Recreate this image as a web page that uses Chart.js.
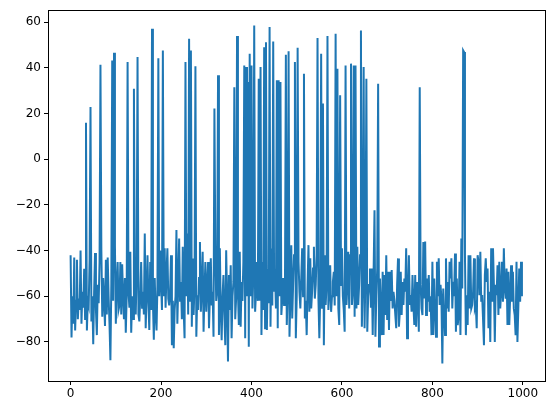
<!DOCTYPE html>
<html>
<head>
<meta charset="utf-8">
<script src="https://cdn.jsdelivr.net/npm/chart.js@4.4.0/dist/chart.umd.min.js"></script>
<style>
html,body{margin:0;padding:0;background:#fff;}
canvas{display:block;}
</style>
</head>
<body>
<canvas id="c" width="555" height="413"></canvas>
<script>
// sample spacing along x (values are read every 2 units)
const xStep = 2;
const values = [
-42, -78, -60, -72, -43, -75, -62, -44, -70, -61,
-66, -40, -72, -58, -65, -48, -70, 16, -75, -62,
-64, -44, 22.9, -71, -60, -81, -58, -41, -66, -77,
-55, -63, -45, 41.4, -40, -69, -52, -62, -73, -44,
-68, -43, -60, -72, -88, -55, 43.3, -62, 46.7, -37.6,
-72, -55, -45, -66, -64, -45, -68, -46, -60, -70,
-52, -76, -60, 42.6, -58, -65, -40.5, -76, -60, -70,
30.9, -55, -68, -50, 44.8, -68, -71, -60, -45, -65,
-58, -68, -32.5, -74, -60, -42, -62, -74.8, -45, -66,
57.2, -62, -79, -52, -68, -75, -55, 44.3, -60, -40,
-54, -66, 47.7, -60, -39, -65, -50, -39, -61, -64,
-58, -42, -81.4, -62, -82.8, -66, -60, -31, -72, -55,
-34.7, -62, -53.7, -70, -38.3, -66, -78.4, 42.6, -60, -32.5,
-68, 52.8, -62, 47.7, -73.3, -43.4, -68.2, -55, 40.8, -77.7,
-59.5, -66, -52, -36.2, -66.8, -56, -40.5, -75.5, -58, -45,
-66.8, -55, -45, -74, -60, -43.4, -64, -58, -77.7, 22.2,
-40, -62, -58, 36.8, -77, -39, -66, -79.2, -60, -50.7,
-68, -81.4, -39.8, -62, -88.6, -50.7, -66, -46.4, -78.4, -60,
-53.7, 31.6, -70, -61, 54, -58, -72.6, -40.5, -73.3, -53.7,
-62, -45, 41.1, -78.4, 40.4, -60, 33.8, -82.1, 46.2, -60,
41.1, -65.3, -50.7, 58.6, -66.8, -58, -45, -62, 35.3, -62,
40.4, -77, -45, -66, 49.1, -74, 51.3, -74.8, -48, -63,
57.9, -73.3, -39.1, -64, 51.6, -58, -48, -65.3, 34.6, -74,
34.6, -60, 33.8, -68.2, -61, -52, -63.8, -55, 45.8, -72.6,
-58, 47.3, -77.7, -60, -37.6, -69.7, -55, -42, 42.6, -78.4,
-60, 48.8, -45, -58, -65.3, -52, -39, -60, 37.5, -69.7,
-62, -77, -55, -37.6, -66.8, -43.4, -65.3, -58, -47.8, -38.3,
-61, -55, -42, 53.1, -61, -78.4, -60, 46.2, -65, 24.4,
-81.4, -42, -63.8, -55, 54, -66, -58, -46.4, -66.8, -60,
-53.7, -49.3, -64, 55, -60, 39.7, -65.3, -72.6, 28, -55,
-39, -60, -66, -75.5, 41.1, -63.8, -55, -40.5, -65.3, -42,
41.9, -63.8, -58, 41.1, -69, 41.1, -65.3, -38.3, -63.8, -55,
-42, 56.4, -73.3, -53.7, 40.4, -74, -49.3, 35.3, -75.5, -60,
-55, -47.8, -65, -47.8, -77, -49.3, -22.3, -77.7, -60, -47.8,
33.1, -82, -52.2, -66, -77, -49.3, -77, -50.7, -68.2, -42,
-70.4, -49.3, -74.8, -49.3, -62, -48.5, -65.3, -58, -62, -68.2,
-74, -55, -43.4, -73.3, -66.8, -49.3, -68.2, -53.7, -63.8, -52.2,
-58, -39, -78.4, -60, -42, -63.8, -59.5, -66.8, -50.7, -63.8,
-72.6, -50.7, -73.3, -53.7, -60, -75.5, 31.6, -55, -65.3, -68.2,
-36.2, -61, -36, -68.2, -52.2, -62.4, -50.7, -66.8, -60, -77,
-44.9, -77, -52.2, -63.8, -77.7, -44.9, -60, -43.4, -63.8, -55,
-61, -89.4, -56.6, -66, -77, -43.4, -65.3, -53.7, -66.8, -44.9,
-52.2, -43.4, -65.3, -53.7, -60, -41.3, -75.5, -52.2, -72.6, -68.2,
-44.9, -77, -34.7, -56.6, 47.7, 47, -42, -77, -59.5, -72.6,
-42, -65.3, -42, -65.3, -63.8, -58, -43.4, -65.3, -63.8, -74,
-42, -44.9, -59.5, -40.5, -62.4, -59.5, -70, -81.4, -50.7, -43.4,
-53.7, -47.8, -74, -58, -80, -39, -62, -39, -55, -80,
-55, -59.5, -46.4, -68.2, -44.9, -65.3, -58, -44.9, -62.4, -39,
-56.6, -61, -47.8, -72.6, -49.3, -72.6, -60, -46.4, -62.4, -49.3,
-65.3, -68.2, -77, -44.9, -80, -65.3, -47.8, -62.4, -44.9, -60
];
const xTicks = [0, 200, 400, 600, 800, 1000];
const yTicks = [-80, -60, -40, -20, 0, 20, 40, 60];

const points = values.map((v, i) => ({x: i * xStep, y: v}));
const fmt = v => (v < 0 ? '\u2212' + Math.abs(v) : String(v));

const frame = {
  id: 'frame',
  afterDraw(chart) {
    const a = chart.chartArea, ctx = chart.ctx;
    ctx.save();
    ctx.strokeStyle = '#000';
    ctx.lineWidth = 1;
    ctx.strokeRect(Math.round(a.left) + 0.5, Math.round(a.top) + 0.5,
                   Math.round(a.right - a.left), Math.round(a.bottom - a.top));
    ctx.restore();
  }
};

new Chart(document.getElementById('c'), {
  type: 'line',
  data: {
    datasets: [{
      data: points,
      borderColor: '#1f77b4',
      borderWidth: 2,
      pointRadius: 0,
      tension: 0,
      fill: false
    }]
  },
  options: {
    responsive: false,
    animation: false,
    events: [],
    layout: {padding: {left: 0, right: 10, top: 10, bottom: 0}},
    plugins: {legend: {display: false}, tooltip: {enabled: false}},
    scales: {
      x: {
        type: 'linear',
        min: -50,
        max: 1049,
        afterBuildTicks: s => { s.ticks = xTicks.map(v => ({value: v})); },
        afterFit: s => { s.height = 32; },
        grid: {display: true, drawOnChartArea: false, drawTicks: true, tickLength: 4, tickColor: '#000', lineWidth: 1},
        border: {display: true, color: '#000', width: 1},
        ticks: {color: '#000', padding: 2, maxRotation: 0, autoSkip: false,
                font: {family: 'DejaVu Sans', size: 12}, callback: v => fmt(v)}
      },
      y: {
        type: 'linear',
        min: -97.1,
        max: 65.3,
        afterBuildTicks: s => { s.ticks = yTicks.map(v => ({value: v})); },
        afterFit: s => { s.width = 48; },
        grid: {display: true, drawOnChartArea: false, drawTicks: true, tickLength: 4, tickColor: '#000', lineWidth: 1},
        border: {display: true, color: '#000', width: 1},
        ticks: {color: '#000', padding: 3, autoSkip: false,
                font: {family: 'DejaVu Sans', size: 12}, callback: v => fmt(v)}
      }
    }
  },
  plugins: [frame]
});
</script>
</body>
</html>
